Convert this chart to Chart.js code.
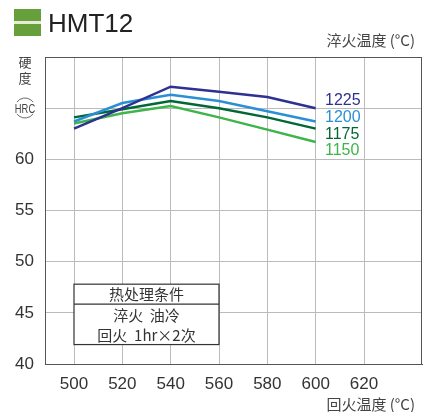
<!DOCTYPE html>
<html>
<head>
<meta charset="utf-8">
<script src="https://cdn.jsdelivr.net/npm/chart.js@4/dist/chart.umd.min.js"></script>
<style>
  html, body { margin: 0; padding: 0; background: #fff; }
  #wrap { width: 430px; height: 412px; position: relative; }
</style>
</head>
<body>
<div id="wrap"><canvas id="hardnessChart" width="430" height="412"></canvas></div>
<script>
// tempering temperatures (°C)
const temperTemps = [500, 520, 540, 560, 580, 600];
// hardness (HRC) per quenching temperature
const hrc1225 = [63.0, 65.0, 67.1, 66.6, 66.1, 65.0];
const hrc1200 = [63.7, 65.5, 66.3, 65.7, 64.7, 63.7];
const hrc1175 = [64.1, 64.9, 65.7, 65.0, 64.1, 63.0];
const hrc1150 = [63.5, 64.5, 65.2, 64.1, 62.9, 61.7];
const seriesNames = ['1225', '1200', '1175', '1150'];
const xTicks = [500, 520, 540, 560, 580, 600, 620];
const yTicks = [40, 45, 50, 55, 60, 65, 70];
const yLabelled = [40, 45, 50, 55, 60];

const colors = ['#2e3192', '#2b8fd6', '#006837', '#3db54a'];
const cjk = '"Noto Sans CJK SC", "Noto Sans", sans-serif';
const latin = '"Liberation Sans", Arial, sans-serif';

const series = [hrc1225, hrc1200, hrc1175, hrc1150];

const decorations = {
    id: 'decorations',
    afterDraw(chart) {
        const ctx = chart.ctx;
        const { left, right, top, bottom } = chart.chartArea;
        const xs = chart.scales.x, ys = chart.scales.y;
        ctx.save();

        // frame
        ctx.strokeStyle = '#555';
        ctx.lineWidth = 1;
        ctx.strokeRect(left + 0.5, top + 0.5, right - left - 1, bottom - top);

        // title block
        ctx.fillStyle = '#67a03a';
        ctx.fillRect(14, 9, 27, 27);
        ctx.fillStyle = '#e4ecd8';
        ctx.fillRect(14, 21, 27, 3);
        ctx.fillStyle = '#222';
        ctx.font = '26px ' + latin;
        ctx.textBaseline = 'alphabetic';
        ctx.textAlign = 'left';
        ctx.fillText('HMT12', 48, 32);

        ctx.fillStyle = '#444';
        ctx.font = '15px ' + cjk;
        ctx.textAlign = 'right';
        ctx.textBaseline = 'middle';
        ctx.fillText('淬火温度 (°C)', 415, 40);
        ctx.fillText('回火温度 (°C)', 415, 404);

        // y axis title
        ctx.textAlign = 'center';
        ctx.font = '13px ' + cjk;
        ctx.fillText('硬', 25, 62);
        ctx.fillText('度', 25, 78);
        ctx.save();
        ctx.translate(25, 108);
        ctx.scale(0.72, 1);
        ctx.font = '13px ' + latin;
        ctx.fillText('HRC', 0, 1);
        ctx.restore();
        ctx.strokeStyle = '#444';
        ctx.lineWidth = 0.8;
        ctx.beginPath();
        ctx.arc(25, 108, 10, Math.PI * 1.2, Math.PI * 1.8);
        ctx.stroke();
        ctx.beginPath();
        ctx.arc(25, 108, 10, Math.PI * 0.2, Math.PI * 0.8);
        ctx.stroke();

        // series labels
        ctx.textAlign = 'left';
        ctx.font = '16px ' + latin;
        const labelY = [101, 118, 135, 151];
        seriesNames.forEach((name, i) => {
            ctx.fillStyle = colors[i];
            ctx.fillText(name, 325, labelY[i]);
        });

        // heat treatment box
        const bx1 = xs.getPixelForValue(500), bx2 = xs.getPixelForValue(560);
        const by1 = ys.getPixelForValue(47.8), by2 = ys.getPixelForValue(41.9);
        const bmid = ys.getPixelForValue(45.85);
        ctx.fillStyle = '#fff';
        ctx.fillRect(bx1, by1, bx2 - bx1, by2 - by1);
        ctx.strokeStyle = '#333';
        ctx.lineWidth = 1.2;
        ctx.strokeRect(bx1, by1, bx2 - bx1, by2 - by1);
        ctx.beginPath();
        ctx.moveTo(bx1, bmid);
        ctx.lineTo(bx2, bmid);
        ctx.stroke();
        ctx.fillStyle = '#333';
        ctx.textAlign = 'center';
        ctx.font = '15px ' + cjk;
        const cx = (bx1 + bx2) / 2;
        ctx.fillText('热处理条件', cx, (by1 + bmid) / 2);
        ctx.fillText('淬火  油冷', cx, bmid + 11);
        ctx.fillText('回火  1hr×2次', cx, bmid + 31);
        ctx.restore();
    }
};

new Chart(document.getElementById('hardnessChart'), {
    type: 'line',
    data: {
        datasets: series.map((vals, i) => ({
            label: seriesNames[i],
            data: temperTemps.map((t, j) => ({ x: t, y: vals[j] })),
            borderColor: colors[i],
            borderWidth: 2.5,
            pointRadius: 0,
            tension: 0,
            fill: false
        }))
    },
    options: {
        responsive: false,
        animation: false,
        layout: { padding: { top: 57, right: 8, left: 0, bottom: 0 } },
        plugins: { legend: { display: false }, tooltip: { enabled: false } },
        scales: {
            x: {
                type: 'linear',
                min: 488,
                max: 644,
                afterBuildTicks: axis => { axis.ticks = xTicks.map(v => ({ value: v })); },
                afterFit: axis => { axis.height = 48; },
                grid: { color: '#bbb', lineWidth: 1, drawTicks: false },
                border: { color: '#555' },
                ticks: { color: '#333', font: { size: 17, family: latin }, padding: 10, maxRotation: 0 }
            },
            y: {
                min: 40,
                max: 70,
                afterBuildTicks: axis => { axis.ticks = yTicks.map(v => ({ value: v })); },
                afterFit: axis => { axis.width = 45; },
                grid: { color: '#bbb', lineWidth: 1, drawTicks: false },
                border: { color: '#555' },
                ticks: {
                    color: '#333',
                    font: { size: 17, family: latin },
                    padding: 11,
                    callback: v => yLabelled.includes(v) ? String(v) : ''
                }
            }
        }
    },
    plugins: [decorations]
});
</script>
</body>
</html>
